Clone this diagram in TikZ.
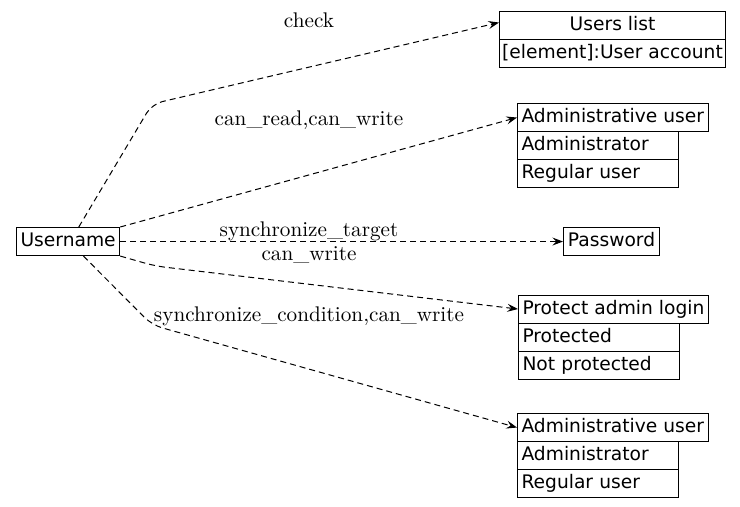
\documentclass[tikz,border=0pt]{standalone}
\usepackage{fontspec}
\newfontfamily\recfont{DejaVu Sans}
\newfontfamily\lblfont{lmroman10-regular.otf}
\usetikzlibrary{arrows.meta}

\tikzset{
  cell/.style={draw, line width=0.8pt, anchor=north west,
    font=\recfont\fontsize{14}{16}\selectfont,
    minimum height=21pt, inner xsep=3pt, inner ysep=0pt,
    text height=10.5pt, text depth=3pt},
  head/.style={cell, minimum width=#1},
  row/.style={cell, text width=#1, align=left},
  link/.style={draw, line width=0.75pt, dash pattern=on 4.5pt off 3pt,
    -{Stealth[length=8pt,width=6pt,inset=3pt]}, rounded corners=8pt},
  lbl/.style={font=\lblfont\fontsize{15.9}{18}\selectfont, anchor=base, inner sep=0pt}
}

\begin{document}
\begin{tikzpicture}[x=0.75pt,y=-0.75pt]
        \useasboundingbox (0,0) rectangle (740,507);

        % source
        \node[head=77.25pt] (user) at (16,227) {Username};

        % targets
        \node[head=169.5pt, inner xsep=1.5pt] (ulisthead) at (499,11)  {Users list};
        \node[head=169.5pt, inner xsep=1.5pt] (ulistelem) at (499,39)  {[element]:User account};

        \node[head=142.5pt] (adm1head)  at (517,103) {Administrative user};
        \node[row=114.75pt] (adm1a)     at (517,131) {Administrator};
        \node[row=114.75pt] (adm1b)     at (517,159) {Regular user};

        \node[head=72pt]    (pwd)       at (563,227) {Password};

        \node[head=141pt]   (prothead)  at (518,294.5) {Protect admin login};
        \node[row=114.75pt] (prota)     at (518,322.5) {Protected};
        \node[row=114.75pt] (protb)     at (518,350.5) {Not protected};

        \node[head=142.5pt] (adm2head)  at (517,413) {Administrative user};
        \node[row=114.75pt] (adm2a)     at (517,441) {Administrator};
        \node[row=114.75pt] (adm2b)     at (517,469) {Regular user};

        % bends
        \coordinate (b1) at (152,104);
        \coordinate (b4) at (155,266);
        \coordinate (b5) at (152,325);

        % connectors
        \draw[link] ([xshift=8pt]user.north) -- (b1) -- ([yshift=2.25pt]ulisthead.west);
        \draw[link] (user.north east) -- (adm1head.west);
        \draw[link] (user.east) -- (pwd.west);
        \draw[link] (user.south east) -- (b4) -- (prothead.west);
        \draw[link] ([xshift=11.5pt]user.south) -- (b5) -- (adm2head.west);

        % labels
        \node[lbl] (lcheck) at (309,27.5) {check};
        \node[lbl] (lread)  at (309,125)  {can\_read,can\_write};
        \node[lbl] (lsync)  at (309,236)  {synchronize\_target};
        \node[lbl] (lwrite) at (309,260.5) {can\_write};
        \node[lbl] (lcond)  at (309,321)  {synchronize\_condition,can\_write};

\end{tikzpicture}
\end{document}
